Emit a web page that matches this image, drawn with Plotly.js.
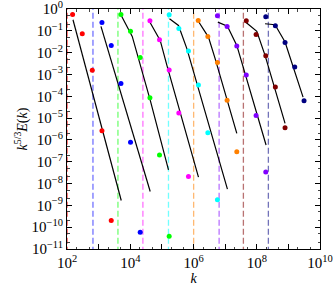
<!DOCTYPE html>
<html>
<head>
<meta charset="utf-8">
<script src="https://cdn.plot.ly/plotly-3.0.1.min.js"></script>
<style>html,body{margin:0;padding:0;background:#fff;}#chart{width:335px;height:286px;}</style>
</head>
<body>
<div id="chart"></div>
<script>
// Series colours (one per run)
const seriesColors = ['#ff0000', '#0000ff', '#00ff00', '#ff00ff', '#00ffff', '#ff8000', '#8000ff', '#800000', '#000080'];

// Measured points k and k^{5/3}E(k)
const kRed = [150, 304, 630, 1274, 2506];
const eRed = [0.561, 0.0738, 1.556e-3, 2.63e-6, 2.05e-10];
const kBlue = [1274, 2506, 5080, 10200, 20650];
const eBlue = [0.242, 0.0215, 3.84e-4, 7.76e-7, 5.79e-11];
const kGreen = [5080, 10200, 20650, 41900, 84100, 170200];
const eGreen = [0.561, 0.0968, 5.92e-3, 8.45e-5, 2.05e-7, 3.8e-11];
const kMagenta = [41900, 84100, 170200, 344000, 693000];
const eMagenta = [0.289, 0.0393, 1.60e-3, 1.69e-5, 2.13e-8];
const kCyan = [170200, 344000, 693000, 1.43e6, 2.84e6, 5.71e6];
const eCyan = [0.543, 0.129, 0.0118, 3.32e-4, 2.13e-6, 1.80e-9];
const kOrange = [1.41e6, 2.84e6, 5.71e6, 1.156e7, 2.34e7];
const eOrange = [0.299, 0.0555, 3.49e-3, 6.64e-5, 2.89e-7];
const kPurple = [5.71e6, 1.156e7, 2.34e7, 4.66e7, 9.53e7, 1.93e8];
const ePurple = [0.489, 0.159, 0.0200, 9.48e-4, 1.33e-5, 3.42e-8];
const kBrown = [4.66e7, 9.53e7, 1.93e8, 3.88e8, 7.85e8];
const eBrown = [0.289, 0.0686, 7.29e-3, 2.69e-4, 3.61e-6];
const kNavy = [1.93e8, 3.88e8, 7.85e8, 1.59e9, 3.13e9];
const eNavy = [0.441, 0.171, 0.0295, 2.20e-3, 6.17e-5];

// Model curves (black lines)
const lkRed = [154.7, 1275, 5190];
const leRed = [0.321, 2.83e-6, 1.67e-9];
const lkBlue = [1186, 11300, 42760];
const leBlue = [0.159, 2.83e-6, 4.31e-9];
const lkGreen = [5190, 11550, 42760, 161800];
const leGreen = [0.505, 0.0555, 6.64e-5, 4.22e-8];
const lkMagenta = [42760, 88500, 144200, 1.436e6];
const leMagenta = [0.234, 0.0365, 2.63e-3, 1.96e-8];
const lkCyan = [174100, 335000, 616600, 1.183e7];
const leCyan = [0.357, 0.1766, 0.01524, 5.55e-9];
const lkOrange = [1.436e6, 2.97e6, 4.83e6, 2.34e7];
const leOrange = [0.2686, 0.0515, 5.32e-3, 2.0e-6];
const lkPurple = [5.89e6, 1.183e7, 2.34e7, 1.97e8];
const lePurple = [0.249, 0.164, 0.0215, 5.85e-7];
const lkBrown = [4.51e7, 1.003e8, 1.83e8, 7.85e8];
const leBrown = [0.249, 0.0939, 7.53e-3, 5.73e-6];
const lkNavy = [1.83e8, 3.79e8, 7.85e8, 2.91e9];
const leNavy = [0.211, 0.190, 0.0305, 9.1e-5];

// Vertical dashed cut-off wavenumbers
const kCut = [102, 662, 4080, 25100, 161800, 1.01e6, 6.46e6, 3.78e7, 2.33e8];

// Tick labels
const xTickVals = [1e2, 1e3, 1e4, 1e5, 1e6, 1e7, 1e8, 1e9, 1e10];
const xTickText = ['10<sup>2</sup>', '', '10<sup>4</sup>', '', '10<sup>6</sup>', '', '10<sup>8</sup>', '', '10<sup>10</sup>'];
const yTickVals = [1, 1e-1, 1e-2, 1e-3, 1e-4, 1e-5, 1e-6, 1e-7, 1e-8, 1e-9, 1e-10, 1e-11];
const yTickText = ['10<sup>0</sup>', '10<sup>−1</sup>', '10<sup>−2</sup>', '10<sup>−3</sup>', '10<sup>−4</sup>', '10<sup>−5</sup>', '10<sup>−6</sup>', '10<sup>−7</sup>', '10<sup>−8</sup>', '10<sup>−9</sup>', '10<sup>−10</sup>', '10<sup>−11</sup>'];

const pts = [[kRed, eRed], [kBlue, eBlue], [kGreen, eGreen], [kMagenta, eMagenta], [kCyan, eCyan], [kOrange, eOrange], [kPurple, ePurple], [kBrown, eBrown], [kNavy, eNavy]];
const lines = [[lkRed, leRed], [lkBlue, leBlue], [lkGreen, leGreen], [lkMagenta, leMagenta], [lkCyan, leCyan], [lkOrange, leOrange], [lkPurple, lePurple], [lkBrown, leBrown], [lkNavy, leNavy]];

const traces = [];
kCut.forEach((k, i) => {
  traces.push({x: [k, k], y: [1e-12, 10], mode: 'lines', type: 'scatter',
    line: {color: seriesColors[i], width: 1.3, dash: '6px,3px'}, opacity: 0.55,
    hoverinfo: 'skip', showlegend: false});
});
lines.forEach(([x, y]) => {
  traces.push({x: x, y: y, mode: 'lines', type: 'scatter',
    line: {color: '#000', width: 1.2}, showlegend: false, cliponaxis: true});
});
pts.forEach(([x, y], i) => {
  traces.push({x: x, y: y, mode: 'markers', type: 'scatter',
    marker: {color: seriesColors[i], size: 5}, showlegend: false, cliponaxis: false});
});

const fontFam = 'Liberation Serif, DejaVu Serif, serif';
const layout = {
  width: 335, height: 286,
  margin: {l: 66.7, r: 15, t: 8.5, b: 36.5},
  paper_bgcolor: '#fff', plot_bgcolor: '#fff',
  font: {family: fontFam, size: 12, color: '#000'},
  showlegend: false,
  xaxis: {
    type: 'log', range: [2, 10],
    tickmode: 'array', tickvals: xTickVals, ticktext: xTickText,
    ticks: 'inside', ticklen: 5, tickcolor: '#000', tickwidth: 1,
    showline: true, linecolor: '#000', linewidth: 1, mirror: 'allticks',
    showgrid: false, zeroline: false, ticklabeloverflow: 'allow',
    tickfont: {family: fontFam, size: 15},
    minor: {ticks: 'inside', ticklen: 2.5, tickcolor: '#444', showgrid: false},
    title: {text: '<i>k</i>', font: {family: fontFam, size: 14}, standoff: 0}
  },
  yaxis: {
    type: 'log', range: [-11, 0],
    tickmode: 'array', tickvals: yTickVals, ticktext: yTickText,
    ticks: 'inside', ticklen: 5, tickcolor: '#000', tickwidth: 1,
    showline: true, linecolor: '#000', linewidth: 1, mirror: 'allticks',
    showgrid: false, zeroline: false, ticklabeloverflow: 'allow',
    tickfont: {family: fontFam, size: 15},
    minor: {ticks: 'inside', ticklen: 2.5, tickcolor: '#444', showgrid: false},
    title: {text: '<i>k</i><sup>5/3</sup><i>E</i>(<i>k</i>)', font: {family: fontFam, size: 14}, standoff: 0}
  }
};

Plotly.newPlot('chart', traces, layout, {staticPlot: true, displayModeBar: false});
</script>
</body>
</html>
